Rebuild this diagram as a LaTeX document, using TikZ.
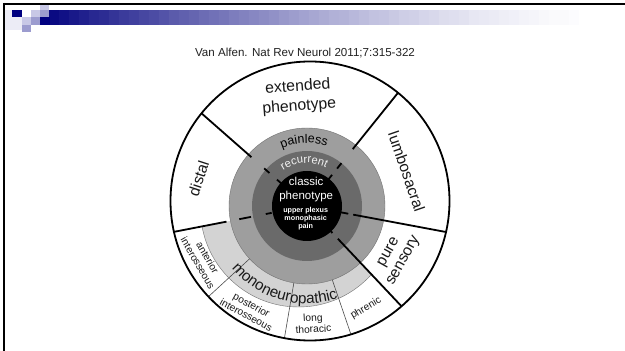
\documentclass[tikz,border=0pt]{standalone}
\usepackage{fontspec}
\setmainfont{Liberation Sans}
\usetikzlibrary{calc,decorations.text}
\definecolor{hdrnavy}{HTML}{0A0A82}
\definecolor{sqnavy}{HTML}{000080}
\definecolor{sqlight}{HTML}{C8C8E6}
\definecolor{sqmid}{HTML}{9C9CCF}
\definecolor{sqpale}{HTML}{ECECF6}
\definecolor{ringmid}{HTML}{9E9E9E}
\definecolor{ringdark}{HTML}{6A6A6A}
\definecolor{ringlight}{HTML}{D3D3D3}
\definecolor{citegray}{HTML}{222222}
\begin{document}
\begin{tikzpicture}[x=1pt,y=1pt,
  divider/.style={line width=1.8pt, black},
  nerveline/.style={line width=0.6pt, black!70},
  outerlabel/.style={font=\fontsize{15.5}{18}\selectfont, align=center, inner sep=0pt, text=black!90},
  nervelabel/.style={font=\fontsize{10.2}{11.3}\selectfont, align=center, inner sep=0pt, text=black!90},
  hsq/.style={draw=none},
]
\useasboundingbox (0,0) rectangle (625,351);
\fill[white] (0,0) rectangle (625,351);
% ---------- header ----------
\fill[sqpale] (5.3,321) rectangle (21.7,340.7);
\foreach \i in {0,...,56}{
  \pgfmathsetmacro{\t}{\i/56}
  \pgfmathtruncatemacro{\p}{100*(1-\t)^1.6}
  \fill[hdrnavy!\p!white] ({49.3+\i*10},326) rectangle ({49.3+\i*10+10.3},341);
}
\fill[hsq,sqnavy] (12.3,333.7) rectangle (21.7,341);
\fill[hsq,sqnavy] (40,326) rectangle (49.5,333.7);
\fill[hsq,sqlight] (31,333.7) rectangle (40,341);
\fill[hsq,sqlight] (40,341) rectangle (49.3,345.7);
\fill[hsq,sqmid] (40,333.7) rectangle (49.3,341);
\fill[hsq,sqlight] (21.7,326) rectangle (31,333.7);
\fill[hsq,sqmid] (31,326) rectangle (40,333.7);
\fill[hsq,sqmid] (21.7,318.7) rectangle (31,326);
% frame lines
\draw[line width=2.3pt,black] (3.2,346.8) -- (625,346.8);
\draw[line width=2.3pt,black] (4.3,348) -- (4.3,0);
\node[font=\fontsize{11.6}{12}\selectfont, text=citegray, inner sep=0pt] (cite) at (305,298.2) {Van Alfen. Nat Rev Neurol 2011;7:315-322};
% ---------- wheel ----------
\coordinate (O) at (310,150);
\coordinate (C) at (307,145);
\coordinate (L) at (298.5,142);
\fill[white] (O) circle (139.5);
\begin{scope}
  \clip (C) -- ($(C)+(191:170)$) arc[start angle=191, end angle=313.3, radius=170] -- cycle;
  \fill[ringlight, draw=black!55, line width=0.4pt] (L) circle (98);
\end{scope}
\fill[ringmid, draw=black!55, line width=0.4pt] (C) circle (78);
\fill[ringdark] (C) circle (55);
\fill[black] (C) circle (35);
\begin{scope}
  \clip (O) circle (139.5);
  \foreach \a in {222.6,260.3,288.9}
    \draw[nerveline] ($(C)+(\a:78)$) -- ($(C)+(\a:160)$);
  % upper-left divider
  \draw[divider] ($(C)+(138.7:74)$) -- ($(C)+(138.7:160)$);
  \draw[divider] ($(C)+(138.7:50)$) -- ($(C)+(138.7:57)$);
  \draw[divider] ($(C)+(138.7:34)$) -- ($(C)+(138.7:40)$);
  % upper-right divider
  \draw[divider] ($(C)+(51.2:73)$) -- ($(C)+(51.2:160)$);
  \draw[divider] ($(C)+(51.2:48)$) -- ($(C)+(51.2:55)$);
  \draw[divider] ($(C)+(51.2:34)$) -- ($(C)+(51.2:40)$);
  % right divider
  \draw[divider] ($(C)+(-10.6:47)$) -- ($(C)+(-10.6:160)$);
  \draw[divider] ($(C)+(-10.6:34)$) -- ($(C)+(-10.6:42)$);
  % lower-right divider
  \draw[divider] ($(C)+(-46.7:45)$) -- ($(C)+(-46.7:160)$);
  \draw[divider] ($(C)+(-46.7:31)$) -- ($(C)+(-46.7:37)$);
  % left divider
  \draw[divider] ($(C)+(191:82)$) -- ($(C)+(191:160)$);
  \draw[divider] ($(C)+(191:57)$) -- ($(C)+(191:69)$);
  \draw[divider] ($(C)+(191:36)$) -- ($(C)+(191:42)$);
\end{scope}
\draw[line width=1.8pt] (O) circle (139.5);
% ---------- outer labels ----------
\node[outerlabel, font=\fontsize{15.8}{20}\selectfont, rotate=4.4] (ext) at ($(C)+(94.4:109.6)$) {extended\\phenotype};
\node[outerlabel, rotate=72] (distal) at ($(C)+(165.7:112)$) {distal};
\node[outerlabel, rotate=-71] (lumbo) at ($(C)+(19:105.4)$) {lumbosacral};
\node[outerlabel, font=\fontsize{15.5}{17}\selectfont, rotate=61] (pure) at ($(C)+(-29.5:103)$) {pure\\sensory};
% ---------- nerve labels ----------
\node[nervelabel, rotate=-60] (ant) at ($(C)+(207.5:117.5)$) {anterior\\interosseous};
\node[nervelabel, rotate=-28.5] (post) at ($(C)+(240.8:119)$) {posterior\\interosseous};
\node[nervelabel, rotate=3] (long) at ($(C)+(273:117.5)$) {long\\thoracic};
\node[nervelabel, rotate=30] (phren) at ($(C)+(300:118)$) {phrenic};
% ---------- curved ring labels ----------
\path[decorate, decoration={text along path, text={|\fontsize{12.5}{12}\selectfont|painless}, text align=center, text color=black}]
  ($(C)+(152.6:63)$) arc[start angle=152.6, end angle=32.6, radius=63];
\path[decorate, decoration={text along path, text={|\fontsize{11.2}{12}\selectfont|recurrent}, text align=center, text color=black!5}]
  ($(C)+(153.7:43)$) arc[start angle=153.7, end angle=33.7, radius=43];
\path[decorate, decoration={text along path, text={|\fontsize{15.2}{15}\selectfont|mononeuropathic}, text align=center, text color=black!90}]
  ($(C)+(194:97.5)$) arc[start angle=194, end angle=314, radius=97.5];
% ---------- centre text ----------
\node[font=\fontsize{11.5}{14}\selectfont, text=white, align=center, inner sep=0pt] (classic) at (306.2,161.3) {classic\\phenotype};
\node[font=\bfseries\fontsize{7.2}{8}\selectfont, text=white, align=center, inner sep=0pt] (sub) at (305.7,132.4) {upper plexus\\monophasic\\pain};
\end{tikzpicture}
\end{document}
